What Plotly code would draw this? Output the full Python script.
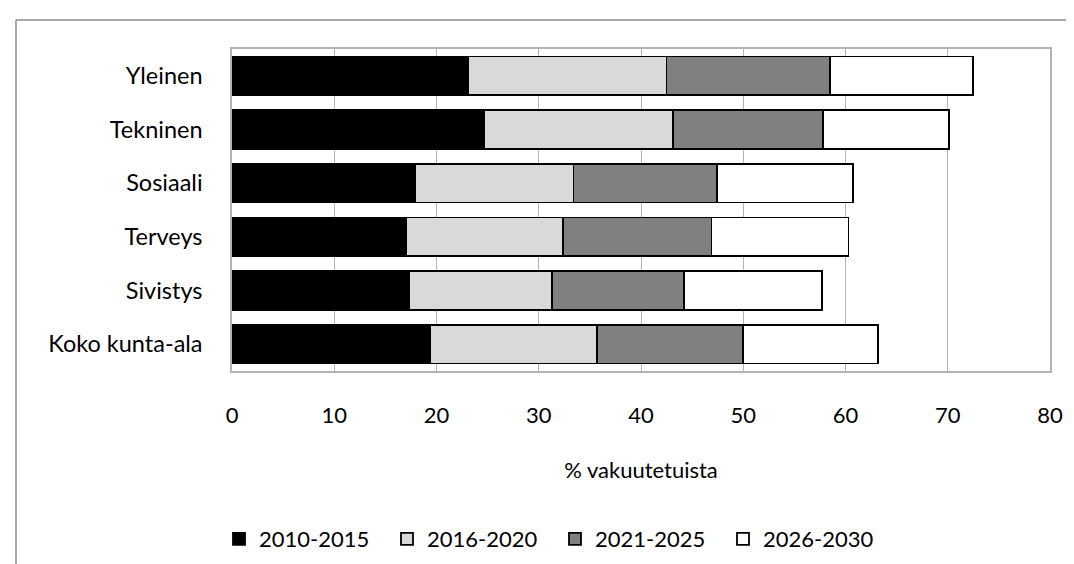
import plotly.graph_objects as go

categories = ["Yleinen", "Tekninen", "Sosiaali", "Terveys", "Sivistys", "Koko kunta-ala"]
series_names = ["2010-2015", "2016-2020", "2021-2025", "2026-2030"]
s2010_2015 = [23.1, 24.7, 17.9, 17.0, 17.3, 19.4]
s2016_2020 = [19.4, 18.4, 15.5, 15.4, 14.0, 16.3]
s2021_2025 = [16.0, 14.7, 14.0, 14.5, 12.9, 14.3]
s2026_2030 = [14.0, 12.3, 13.3, 13.4, 13.5, 13.2]
series_values = [s2010_2015, s2016_2020, s2021_2025, s2026_2030]
series_colors = ["#000000", "#d9d9d9", "#808080", "#ffffff"]
x_ticks = [0, 10, 20, 30, 40, 50, 60, 70, 80]

FONT = "Lato"
FS = 22
FSY = 23.5
W, H = 1074, 564
L, R, T, B = 224, 32, 41, 201
pw, ph = W - L - R, H - T - B

fig = go.Figure()
for name, vals, col in zip(series_names, series_values, series_colors):
    fig.add_trace(go.Bar(
        y=categories, x=vals, name=name, orientation="h",
        marker=dict(color=col, line=dict(color="#000000", width=1.8)),
    ))

def px_x(p):
    return (p - L) / pw

def px_y(p):
    return (H - B - p) / ph

frame = "#8c8c8c"
fig.add_shape(type="line", xref="paper", yref="paper",
              x0=px_x(8), x1=px_x(W + 5), y0=px_y(12), y1=px_y(12),
              line=dict(color=frame, width=1.5))
fig.add_shape(type="line", xref="paper", yref="paper",
              x0=px_x(8), x1=px_x(8), y0=px_y(12), y1=px_y(H + 5),
              line=dict(color=frame, width=1.5))

fig.update_layout(
    width=W, height=H,
    barmode="stack", bargap=0.28,
    margin=dict(l=L, r=R, t=T, b=B),
    paper_bgcolor="white", plot_bgcolor="white",
    font=dict(family=FONT, size=FS, color="#000000"),
    showlegend=True,
    legend=dict(orientation="h", x=px_x(211), xanchor="left", y=px_y(531), yanchor="middle",
                font=dict(family=FONT, size=FS), traceorder="normal",
                entrywidth=123, entrywidthmode="pixels", itemwidth=30),
    xaxis=dict(range=[0, 80], tickvals=x_ticks, showgrid=True, gridcolor="#b3b3b3",
               gridwidth=1.3, showline=True, mirror=True, linecolor="#b3b3b3", linewidth=1.5,
               zeroline=False, ticks="", ticklabelstandoff=24,
               tickfont=dict(family=FONT, size=FS),
               title=dict(text="% vakuutetuista", standoff=35, font=dict(family=FONT, size=FS))),
    yaxis=dict(categoryorder="array", categoryarray=categories, autorange="reversed",
               showgrid=False, showline=True, mirror=True, linecolor="#b3b3b3", linewidth=1.5,
               ticks="", ticklabelstandoff=23, tickfont=dict(family=FONT, size=FSY)),
)

fig.write_html("out.html")
